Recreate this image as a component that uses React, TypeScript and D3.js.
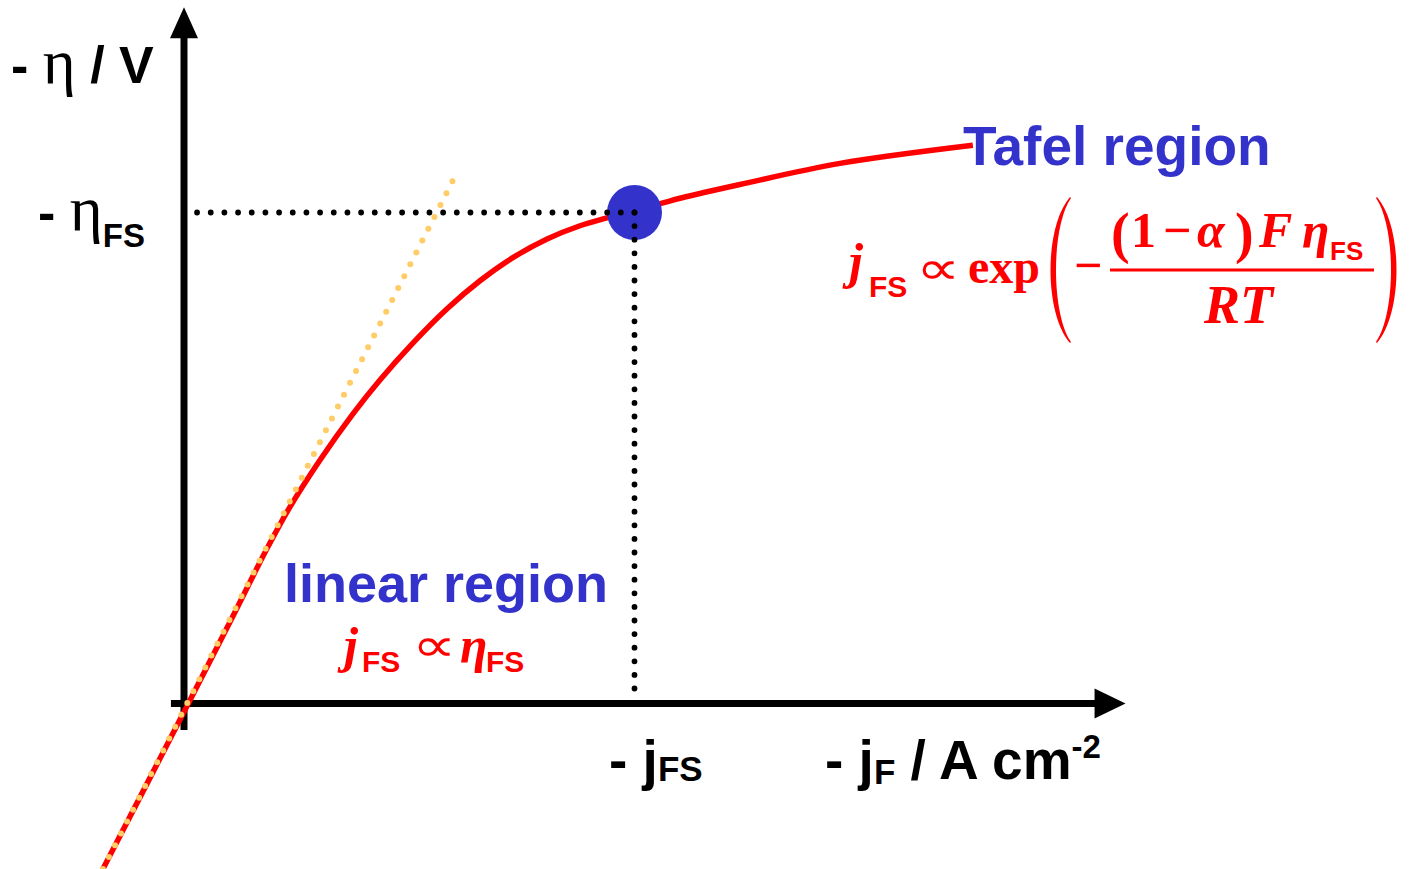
import React from "react";
import * as d3 from "d3";

const W = 1415;
const H = 869;

// Polarization curve, in reduced units: current density j / jFS and overpotential η / ηFS
const curveJ = [-0.18, 0.009, 0.102, 0.184, 0.235, 0.302, 0.375, 0.435, 0.508, 0.584, 0.657, 0.73, 0.806, 0.879, 0.939, 0.999, 1.061, 1.101, 1.234, 1.456, 1.751];
const curveEta = [-0.337, -0.001, 0.166, 0.315, 0.4, 0.496, 0.59, 0.659, 0.734, 0.804, 0.861, 0.908, 0.946, 0.973, 0.989, 1.004, 1.019, 1.029, 1.057, 1.1, 1.137];

// Low-overpotential tangent (linear approximation)
const tangentJ = [-0.18, 0.604];
const tangentEta = [-0.337, 1.078];

// Transition point (jFS, ηFS)
const fsJ = 1;
const fsEta = 1;

// Axis extents in reduced units
const xAxisExtent = [-0.029, 2.09];
const yAxisExtent = [-0.054, 1.418];

const SANS = "'Liberation Sans', Arial, sans-serif";
const SERIF = "'Liberation Serif', 'Times New Roman', serif";
const MATH = "'DejaVu Sans', sans-serif";
const RED = "#ff0000";
const BLUE = "#3333cc";

// "proportional to" sign, widened to the formula's proportions
function Propto({ x, y }: { x: number; y: number }) {
  return (
    <text transform={`translate(${x},${y}) scale(1.32,1)`} fontFamily={MATH} fontSize={47}>
      ∝
    </text>
  );
}

export default function App() {
  const x = d3.scaleLinear().domain([0, 1]).range([184, 634.5]);
  const y = d3.scaleLinear().domain([0, 1]).range([703.5, 212.5]);

  const curvePts: [number, number][] = curveJ.map((j, i) => [j, curveEta[i]]);
  const line = d3
    .line<[number, number]>()
    .x((d) => x(d[0]))
    .y((d) => y(d[1]))
    .curve(d3.curveCatmullRom.alpha(0.5));
  const straight = d3
    .line<[number, number]>()
    .x((d) => x(d[0]))
    .y((d) => y(d[1]));

  const tangentPts: [number, number][] = tangentJ.map((j, i) => [j, tangentEta[i]]);

  const x0 = x(xAxisExtent[0]);
  const x1 = x(xAxisExtent[1]);
  const yTop = y(yAxisExtent[1]);
  const yBot = y(yAxisExtent[0]);
  const ax = x(0);
  const ay = y(0);
  const arrowLen = 31;
  const arrowHalf = 14;

  const cx = x(fsJ);
  const cy = y(fsEta);

  // tall bracket drawn as a filled crescent; dir = +1 opens right, -1 opens left
  const bigParen = (xe: number, ctl: number, ctlIn: number, top: number, bot: number, dir: number) =>
    `M${xe},${top} C${ctl},${top + 30} ${ctl},${bot - 30} ${xe},${bot} L${xe + dir},${bot - 1} C${ctlIn},${bot - 30} ${ctlIn},${top + 30} ${xe + dir},${top + 1} Z`;

  return (
    <svg
      width={W}
      height={H}
      viewBox={`0 0 ${W} ${H}`}
      style={{ position: "absolute", left: 0, top: 0, background: "#fff" }}
    >
      <rect x={0} y={0} width={W} height={H} fill="#fff" />

      {/* axes */}
      <line x1={ax} y1={yBot} x2={ax} y2={yTop + arrowLen - 1} stroke="#000" strokeWidth={7} />
      <polygon
        points={`${ax},${yTop} ${ax - arrowHalf},${yTop + arrowLen} ${ax + arrowHalf},${yTop + arrowLen}`}
        fill="#000"
      />
      <line x1={x0} y1={ay} x2={x1 - arrowLen + 1} y2={ay} stroke="#000" strokeWidth={7} />
      <polygon
        points={`${x1},${ay} ${x1 - arrowLen},${ay - arrowHalf - 1} ${x1 - arrowLen},${ay + arrowHalf + 1}`}
        fill="#000"
      />

      {/* polarization curve */}
      <path d={line(curvePts) || ""} fill="none" stroke={RED} strokeWidth={5.5} />

      {/* linear tangent */}
      <path
        d={straight(tangentPts) || ""}
        fill="none"
        stroke="#ffcc66"
        strokeWidth={6}
        strokeLinecap="round"
        strokeDasharray="0 13.3"
      />

      {/* transition point */}
      <circle cx={cx} cy={cy} r={27.5} fill={BLUE} />

      {/* guide lines to the axes */}
      <line
        x1={cx}
        y1={cy}
        x2={ax + 12}
        y2={cy}
        stroke="#000"
        strokeWidth={5.8}
        strokeLinecap="round"
        strokeDasharray="0 13.67"
      />
      <line
        x1={cx}
        y1={cy}
        x2={cx}
        y2={ay - 12}
        stroke="#000"
        strokeWidth={5.8}
        strokeLinecap="round"
        strokeDasharray="0 13.6"
      />

      {/* axis titles */}
      <text x={11} y={83} fontFamily={SANS} fontWeight="bold" fontSize={52} fill="#000" style={{ whiteSpace: "pre" }}>
        {"- "}
        <tspan fontFamily={SERIF} fontWeight="normal" fontSize={63}>η</tspan>
        {" / V"}
      </text>
      <text x={38} y={230} fontFamily={SANS} fontWeight="bold" fontSize={52} fill="#000" style={{ whiteSpace: "pre" }}>
        {"- "}
        <tspan fontFamily={SERIF} fontWeight="normal" fontSize={63}>η</tspan>
        <tspan fontSize={33} dy={17}>FS</tspan>
      </text>
      <text x={609} y={779} fontFamily={SANS} fontWeight="bold" fontSize={55} fill="#000" style={{ whiteSpace: "pre" }}>
        {"- j"}
        <tspan fontSize={35} dy={2}>FS</tspan>
      </text>
      <text x={825} y={779} fontFamily={SANS} fontWeight="bold" fontSize={55} fill="#000" style={{ whiteSpace: "pre" }}>
        {"- j"}
        <tspan fontSize={35} dy={5}>F</tspan>
        <tspan dy={-5}>{" / A cm"}</tspan>
        <tspan fontSize={33} dy={-21}>-2</tspan>
      </text>

      {/* region labels */}
      <text x={963} y={165} fontFamily={SANS} fontWeight="bold" fontSize={55} fill={BLUE}>
        Tafel region
      </text>
      <text x={284} y={602} fontFamily={SANS} fontWeight="bold" fontSize={54} fill={BLUE}>
        linear region
      </text>

      {/* linear-region relation */}
      <g fill={RED}>
        <text x={344} y={662} fontFamily={SERIF} fontWeight="bold" fontStyle="italic" fontSize={50}>j</text>
        <text x={362} y={672} fontFamily={SANS} fontWeight="bold" fontSize={30}>FS</text>
        <Propto x={412} y={661} />
        <text x={460} y={662} fontFamily={SERIF} fontWeight="bold" fontStyle="italic" fontSize={50}>η</text>
        <text x={486} y={672} fontFamily={SANS} fontWeight="bold" fontSize={30}>FS</text>
      </g>

      {/* Tafel relation */}
      <g fill={RED}>
        <text x={849} y={278} fontFamily={SERIF} fontWeight="bold" fontStyle="italic" fontSize={50}>j</text>
        <text x={869} y={297} fontFamily={SANS} fontWeight="bold" fontSize={30}>FS</text>
        <Propto x={916} y={284} />
        <text x={968} y={283} fontFamily={SERIF} fontWeight="bold" fontSize={48}>exp</text>
        <path d={bigParen(1070, 1044, 1051, 197, 343, 1)} />
        <path d={bigParen(1377, 1403, 1396, 197, 343, -1)} />
        <text x={1074} y={282} fontFamily={SERIF} fontWeight="bold" fontSize={50}>−</text>
        <line x1={1110} y1={270} x2={1374} y2={270} stroke={RED} strokeWidth={3} />
        <text x={1111} y={252} fontFamily={SERIF} fontWeight="bold" fontSize={56}>(</text>
        <text x={1131} y={247} fontFamily={SERIF} fontWeight="bold" fontSize={50}>1</text>
        <text x={1163} y={247} fontFamily={SERIF} fontWeight="bold" fontSize={50}>−</text>
        <text x={1197} y={247} fontFamily={SERIF} fontWeight="bold" fontStyle="italic" fontSize={50}>α</text>
        <text x={1235} y={252} fontFamily={SERIF} fontWeight="bold" fontSize={56}>)</text>
        <text x={1259} y={247} fontFamily={SERIF} fontWeight="bold" fontStyle="italic" fontSize={50}>F</text>
        <text x={1302} y={247} fontFamily={SERIF} fontWeight="bold" fontStyle="italic" fontSize={50}>η</text>
        <text x={1330} y={260} fontFamily={SANS} fontWeight="bold" fontSize={26}>FS</text>
        <text x={1204} y={323} fontFamily={SERIF} fontWeight="bold" fontStyle="italic" fontSize={54}>RT</text>
      </g>
    </svg>
  );
}
